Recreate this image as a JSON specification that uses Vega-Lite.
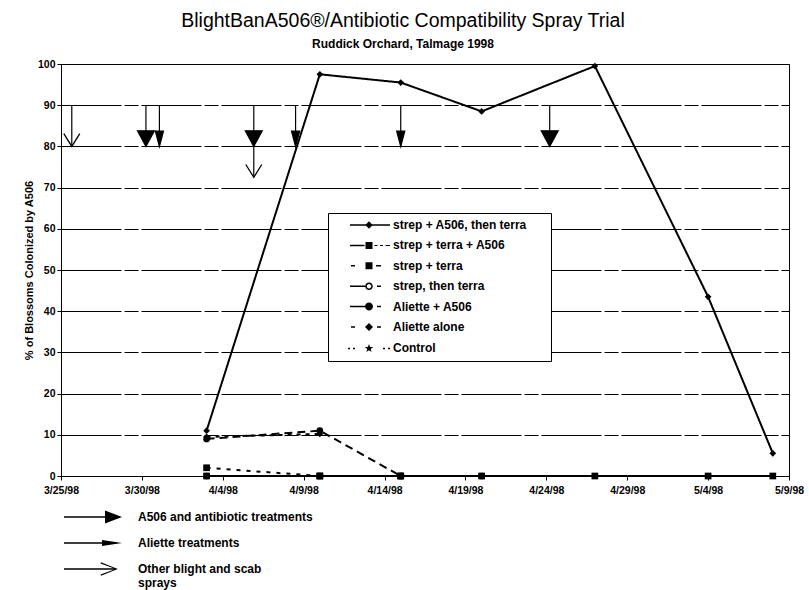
{
  "$schema": "https://vega.github.io/schema/vega-lite/v6.json",
  "width": 728,
  "height": 412,
  "autosize": {"type": "none"},
  "padding": {"left": 61, "top": 64, "right": 20, "bottom": 114},
  "background": "white",
  "title": {
    "text": "BlightBanA506®/Antibiotic Compatibility Spray Trial",
    "subtitle": "Ruddick Orchard, Talmage 1998",
    "anchor": "middle",
    "frame": "group",
    "dx": -22,
    "font": "Liberation Sans",
    "fontSize": 19.5,
    "fontWeight": "normal",
    "color": "black",
    "subtitleFont": "Liberation Sans",
    "subtitleFontSize": 12,
    "subtitleFontWeight": "bold",
    "subtitleColor": "black",
    "subtitlePadding": 8,
    "offset": 8
  },
  "config": {
    "font": "Liberation Sans",
    "view": {"stroke": "black", "strokeWidth": 1}
  },
  "datasets": {
    "series": [
      {"series": "strep + A506, then terra", "date": "1998-04-03T00:00", "pct": 11},
      {"series": "strep + A506, then terra", "date": "1998-04-10T00:00", "pct": 97.5},
      {"series": "strep + A506, then terra", "date": "1998-04-15T00:00", "pct": 95.5},
      {"series": "strep + A506, then terra", "date": "1998-04-20T00:00", "pct": 88.5},
      {"series": "strep + A506, then terra", "date": "1998-04-27T00:00", "pct": 99.5},
      {"series": "strep + A506, then terra", "date": "1998-05-04T00:00", "pct": 43.5},
      {"series": "strep + A506, then terra", "date": "1998-05-08T00:00", "pct": 5.5},
      {"series": "strep + terra", "date": "1998-04-03T00:00", "pct": 2},
      {"series": "strep + terra", "date": "1998-04-10T00:00", "pct": 0},
      {"series": "strep + terra", "date": "1998-04-15T00:00", "pct": 0},
      {"series": "strep, then terra", "date": "1998-04-03T00:00", "pct": 0},
      {"series": "strep, then terra", "date": "1998-04-10T00:00", "pct": 0},
      {"series": "strep, then terra", "date": "1998-04-15T00:00", "pct": 0},
      {"series": "strep, then terra", "date": "1998-04-20T00:00", "pct": 0},
      {"series": "Aliette alone", "date": "1998-04-03T00:00", "pct": 9.5},
      {"series": "Aliette alone", "date": "1998-04-10T00:00", "pct": 10.2},
      {"series": "Aliette + A506", "date": "1998-04-03T00:00", "pct": 9},
      {"series": "Aliette + A506", "date": "1998-04-10T00:00", "pct": 11},
      {"series": "Aliette + A506", "date": "1998-04-15T00:00", "pct": 0},
      {"series": "strep + terra + A506", "date": "1998-04-03T00:00", "pct": 0},
      {"series": "strep + terra + A506", "date": "1998-04-10T00:00", "pct": 0},
      {"series": "strep + terra + A506", "date": "1998-04-15T00:00", "pct": 0},
      {"series": "strep + terra + A506", "date": "1998-04-20T00:00", "pct": 0},
      {"series": "strep + terra + A506", "date": "1998-04-27T00:00", "pct": 0},
      {"series": "strep + terra + A506", "date": "1998-05-04T00:00", "pct": 0},
      {"series": "strep + terra + A506", "date": "1998-05-08T00:00", "pct": 0}
    ],
    "arrows": [
      {"kind": "Other blight and scab sprays", "date": "1998-03-25T16:00", "top": 90, "tip": 80},
      {"kind": "A506 and antibiotic treatments", "date": "1998-03-30T06:00", "top": 90, "tip": 80},
      {"kind": "Aliette treatments", "date": "1998-03-31T02:00", "top": 90, "tip": 80},
      {"kind": "A506 and antibiotic treatments", "date": "1998-04-05T22:00", "top": 90, "tip": 80},
      {"kind": "Other blight and scab sprays", "date": "1998-04-05T22:00", "top": 80, "tip": 72.5},
      {"kind": "Aliette treatments", "date": "1998-04-08T12:00", "top": 90, "tip": 80},
      {"kind": "Aliette treatments", "date": "1998-04-15T00:00", "top": 90, "tip": 80},
      {"kind": "A506 and antibiotic treatments", "date": "1998-04-24T05:00", "top": 90, "tip": 80}
    ]
  },
  "layer": [
    {
      "data": {"name": "series"},
      "mark": {"type": "line", "color": "black", "strokeWidth": 2},
      "encoding": {
        "x": {
          "field": "date", "type": "temporal",
          "scale": {"domain": [{"year": 1998, "month": 3, "date": 25}, {"year": 1998, "month": 5, "date": 9}], "nice": false},
          "axis": {
            "title": null,
            "values": [
              {"year": 1998, "month": 3, "date": 25}, {"year": 1998, "month": 3, "date": 30},
              {"year": 1998, "month": 4, "date": 4}, {"year": 1998, "month": 4, "date": 9},
              {"year": 1998, "month": 4, "date": 14}, {"year": 1998, "month": 4, "date": 19},
              {"year": 1998, "month": 4, "date": 24}, {"year": 1998, "month": 4, "date": 29},
              {"year": 1998, "month": 5, "date": 4}, {"year": 1998, "month": 5, "date": 9}
            ],
            "format": "%-m/%-d/%y",
            "grid": false,
            "labelFont": "Liberation Sans",
            "labelFontSize": 10.5,
            "labelFontWeight": "bold",
            "labelColor": "black",
            "labelPadding": 5,
            "labelFlush": false,
            "labelOverlap": false,
            "tickSize": 4,
            "tickColor": "black",
            "domainColor": "black"
          }
        },
        "y": {
          "field": "pct", "type": "quantitative",
          "scale": {"domain": [0, 100], "nice": false},
          "axis": {
            "title": "% of Blossoms Colonized by A506",
            "titleFont": "Liberation Sans",
            "titleFontSize": 11,
            "titleFontWeight": "bold",
            "titleColor": "black",
            "titlePadding": 3,
            "values": [0, 10, 20, 30, 40, 50, 60, 70, 80, 90, 100],
            "labelFont": "Liberation Sans",
            "labelFontSize": 10.5,
            "labelFontWeight": "bold",
            "labelColor": "black",
            "tickSize": 4,
            "tickColor": "black",
            "domainColor": "black",
            "grid": true,
            "gridColor": "black",
            "gridWidth": 1,
            "gridDash": [60, 3, 14, 3]
          }
        },
        "strokeDash": {
          "field": "series", "type": "nominal",
          "scale": {
            "domain": ["strep + A506, then terra", "strep + terra + A506", "strep + terra", "strep, then terra", "Aliette + A506", "Aliette alone", "Control"],
            "range": [[1, 0], [1, 0], [4, 6], [1, 0], [8, 5], [4, 5], [2, 3]]
          },
          "legend": null
        }
      }
    },
    {
      "data": {"name": "series"},
      "mark": {"type": "point", "filled": true, "color": "black", "size": 45, "opacity": 1},
      "encoding": {
        "x": {"field": "date", "type": "temporal"},
        "y": {"field": "pct", "type": "quantitative"},
        "shape": {
          "field": "series", "type": "nominal",
          "scale": {
            "domain": ["strep + A506, then terra", "strep + terra + A506", "strep + terra", "strep, then terra", "Aliette + A506", "Aliette alone", "Control"],
            "range": ["diamond", "square", "square", "circle", "circle", "diamond", "M0,-1L0.22,-0.3L0.95,-0.3L0.36,0.12L0.59,0.8L0,0.38L-0.59,0.8L-0.36,0.12L-0.95,-0.3L-0.22,-0.3Z"]
          },
          "legend": null
        }
      }
    },
    {
      "data": {"name": "arrows"},
      "mark": {"type": "rule", "color": "black", "strokeWidth": 1.2},
      "encoding": {
        "x": {"field": "date", "type": "temporal"},
        "y": {"field": "top", "type": "quantitative"},
        "y2": {"field": "tip"}
      }
    },
    {
      "data": {"name": "arrows"},
      "mark": {"type": "point", "filled": true, "color": "black", "stroke": "black", "strokeWidth": 1.3, "size": 256, "opacity": 1},
      "encoding": {
        "x": {"field": "date", "type": "temporal"},
        "y": {"field": "tip", "type": "quantitative"},
        "fill": {
          "condition": {"test": "datum.kind !== 'Other blight and scab sprays'", "value": "black"},
          "value": "transparent"
        },
        "shape": {
          "field": "kind", "type": "nominal",
          "scale": {
            "domain": ["A506 and antibiotic treatments", "Aliette treatments", "Other blight and scab sprays"],
            "range": ["M-1.05,-1.95L1.05,-1.95L0,0Z", "M-0.5,-1.9L0.5,-1.9L0,0Z", "M-1,-1.6L0,0L1,-1.6"]
          },
          "legend": null
        }
      }
    },
    {
      "data": {"name": "series"},
      "mark": {"type": "point", "filled": false, "color": "black", "fill": "black", "stroke": "black", "strokeWidth": 1.3, "opacity": 0, "size": 100},
      "encoding": {
        "x": {"field": "date", "type": "temporal"},
        "y": {"field": "pct", "type": "quantitative"},
        "shape": {
          "field": "series", "type": "nominal",
          "scale": {
            "domain": ["strep + A506, then terra", "strep + terra + A506", "strep + terra", "strep, then terra", "Aliette + A506", "Aliette alone", "Control"],
            "range": [
              "M-3.8,-0.15H4.2V0.15H-3.8ZM0,-0.75L0.75,0L0,0.75L-0.75,0Z",
              "M-3.8,-0.15H-0.9V0.15H-3.8ZM-0.7,-0.7H0.7V0.7H-0.7ZM1.1,-0.1H1.7V0.1H1.1ZM2.2,-0.1H2.8V0.1H2.2ZM3.3,-0.1H4.2V0.1H3.3Z",
              "M-3.6,-0.15H-2.8V0.15H-3.6ZM-0.7,-0.7H0.7V0.7H-0.7ZM1.4,-0.15H2.4V0.15H1.4Z",
              "M-3.8,-0.15H-0.75V0.15H-3.8ZM0.75,0A0.75,0.75 0 1,1 -0.75,0A0.75,0.75 0 1,1 0.75,0ZM0.45,0A0.45,0.45 0 1,0 -0.45,0A0.45,0.45 0 1,0 0.45,0ZM1.6,-0.15H2.4V0.15H1.6Z",
              "M-3.8,-0.15H-0.8V0.15H-3.8ZM0.8,0A0.8,0.8 0 1,1 -0.8,0A0.8,0.8 0 1,1 0.8,0ZM1.6,-0.15H2.4V0.15H1.6Z",
              "M-3.6,-0.15H-2.8V0.15H-3.6ZM0,-0.8L0.8,0L0,0.8L-0.8,0ZM1.6,-0.15H2.4V0.15H1.6Z",
              "M-4.2,-0.15H-3.8V0.15H-4.2ZM-3.2,-0.15H-2.8V0.15H-3.2ZM0,-0.9L0.21,-0.29L0.86,-0.28L0.34,0.11L0.53,0.73L0,0.36L-0.53,0.73L-0.34,0.11L-0.86,-0.28L-0.21,-0.29ZM2.8,-0.15H3.2V0.15H2.8ZM3.8,-0.15H4.2V0.15H3.8Z"
            ]
          },
          "legend": {
            "orient": "none",
            "legendX": 267,
            "legendY": 149,
            "title": null,
            "fillColor": "white",
            "strokeColor": "black",
            "padding": 6,
            "rowPadding": 6.4,
            "symbolSize": 100,
            "symbolOffset": 29,
            "labelOffset": 18,
            "labelFont": "Liberation Sans",
            "labelFontSize": 12,
            "labelFontWeight": "bold",
            "labelColor": "black",
            "labelLimit": 0,
            "labelExpr": "datum.label === 'strep + A506, then terra' ? datum.label + '\u2800\u2800' : datum.label",
            "symbolStrokeColor": "black",
            "symbolFillColor": "black",
            "symbolStrokeWidth": 1.3,
            "symbolOpacity": 1
          }
        }
      }
    },
    {
      "data": {"name": "arrows"},
      "mark": {"type": "point", "filled": false, "color": "black", "fill": "black", "stroke": "black", "strokeWidth": 1.3, "opacity": 0, "size": 100},
      "encoding": {
        "x": {"field": "date", "type": "temporal"},
        "y": {"field": "tip", "type": "quantitative"},
        "shape": {
          "field": "kind", "type": "nominal",
          "scale": {
            "domain": ["A506 and antibiotic treatments", "Aliette treatments", "Other blight and scab sprays"],
            "range": [
              "M-5.8,-0.13H2.5V0.13H-5.8ZM2.4,-1.3L5.8,0L2.4,1.3Z",
              "M-5.8,-0.13H2V0.13H-5.8ZM1.8,-0.6L5.8,0L1.8,0.6Z",
              "M-5.8,-0.13H4.7V0.13H-5.8ZM1.6,-1.35L4.95,0L4.65,0.05L1.5,-1.1ZM1.5,1.1L4.65,-0.05L4.95,0L1.6,1.35Z"
            ]
          },
          "legend": {
            "orient": "none",
            "legendX": 3,
            "legendY": 447,
            "title": null,
            "padding": 0,
            "rowPadding": 10,
            "symbolSize": 100,
            "symbolOffset": 23,
            "labelOffset": 39,
            "labelFont": "Liberation Sans",
            "labelFontSize": 12,
            "labelFontWeight": "bold",
            "labelColor": "black",
            "labelLimit": 0,
            "labelExpr": "datum.label === 'Other blight and scab sprays' ? ['Other blight and scab', 'sprays'] : datum.label",
            "symbolStrokeColor": "black",
            "symbolFillColor": "black",
            "symbolStrokeWidth": 1.3,
            "symbolOpacity": 1
          }
        }
      }
    }
  ],
  "resolve": {"scale": {"shape": "independent"}}
}
